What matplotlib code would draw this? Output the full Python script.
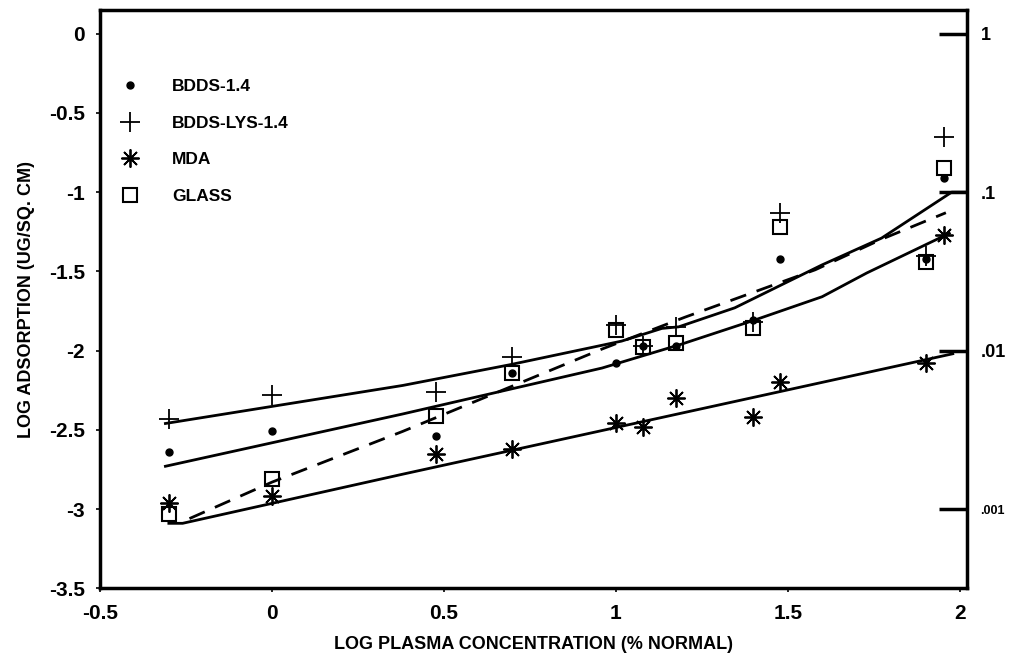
import matplotlib
matplotlib.use("Agg")
import matplotlib.pyplot as plt

plt.rcParams['font.family'] = ['Liberation Sans', 'DejaVu Sans']
plt.rcParams['font.weight'] = 'bold'
plt.rcParams['axes.labelweight'] = 'bold'

# log plasma concentration (% normal)
conc = [-0.301, 0.0, 0.477, 0.699, 1.0, 1.079, 1.176, 1.398, 1.477, 1.903, 1.954]

bdds = [-2.64, -2.51, -2.54, -2.14, -2.08, -1.97, -1.97, -1.81, -1.42, -1.42, -0.91]
bdds_lys = [-2.43, -2.28, -2.26, -2.04, -1.84, -1.97, -1.85, -1.82, -1.13, -1.40, -0.65]
mda = [-2.96, -2.92, -2.65, -2.62, -2.46, -2.48, -2.30, -2.42, -2.20, -2.08, -1.27]
glass = [-3.03, -2.81, -2.41, -2.14, -1.87, -1.98, -1.95, -1.86, -1.22, -1.44, -0.85]

# fitted curves
fit_lys_x = [-0.31, 0.38, 0.69, 0.93, 1.017, 1.134, 1.183, 1.346, 1.599, 1.773, 1.977, 2.02]
fit_lys_y = [-2.46, -2.22, -2.09, -1.98, -1.94, -1.86, -1.85, -1.73, -1.46, -1.29, -1.0, -1.0]

fit_bdds_x = [-0.31, 0.38, 0.96, 1.19, 1.40, 1.60, 1.73, 1.97]
fit_bdds_y = [-2.73, -2.40, -2.11, -1.96, -1.81, -1.66, -1.51, -1.26]

fit_glass_x = [-0.24, 0.0, 0.38, 0.96, 1.20, 1.58, 1.77, 1.96]
fit_glass_y = [-3.06, -2.83, -2.51, -1.99, -1.79, -1.49, -1.30, -1.13]

fit_mda_x = [-0.30, -0.26, 0.38, 1.98]
fit_mda_y = [-3.09, -3.09, -2.78, -2.02]

right_ticks = [1, 0.1, 0.01, 0.001]
right_labels = ['1', '.1', '.01', '.001']

fig = plt.figure(figsize=(10.11, 6.61), dpi=100)
ax = fig.add_axes([0.099, 0.110, 0.857, 0.875])

ax.plot(fit_lys_x, fit_lys_y, color='black', lw=2)
ax.plot(fit_bdds_x, fit_bdds_y, color='black', lw=2)
ax.plot(fit_glass_x, fit_glass_y, color='black', lw=2, dashes=(6, 4))
ax.plot(fit_mda_x, fit_mda_y, color='black', lw=2)

ax.plot(conc, bdds, ls='none', marker='o', ms=5, color='black', label='BDDS-1.4')
ax.plot(conc, bdds_lys, ls='none', marker='+', ms=15, mew=1.3, color='black', label='BDDS-LYS-1.4')
ax.plot(conc, mda, ls='none', marker=(8, 2, 0), ms=13, mew=1.3, color='black', label='MDA')
ax.plot(conc, glass, ls='none', marker='s', ms=10, mew=1.5, mfc='none', mec='black', label='GLASS')

ax.set_xlim(-0.5, 2.02)
ax.set_ylim(-3.5, 0.15)
ax.set_xticks([-0.5, 0, 0.5, 1, 1.5, 2])
ax.set_xticklabels(['-0.5', '0', '0.5', '1', '1.5', '2'])
ax.set_yticks([0, -0.5, -1, -1.5, -2, -2.5, -3, -3.5])
ax.set_yticklabels(['0', '-0.5', '-1', '-1.5', '-2', '-2.5', '-3', '-3.5'])
ax.tick_params(axis='both', labelsize=15, length=3, width=1.2)
ax.tick_params(axis='x', pad=8)
ax.tick_params(axis='y', pad=8)

for s in ax.spines.values():
    s.set_linewidth(2.5)

ax.set_xlabel('LOG PLASMA CONCENTRATION (% NORMAL)', fontsize=13, labelpad=10)
ax.set_ylabel('LOG ADSORPTION (UG/SQ. CM)', fontsize=13, labelpad=10)

ax2 = ax.twinx()
ax2.set_yscale('log')
ax2.set_ylim(10 ** -3.5, 10 ** 0.15)
ax2.set_yticks(right_ticks)
ax2.set_yticklabels(right_labels)
ax2.minorticks_off()
ax2.tick_params(axis='y', direction='in', length=20, width=2.5, labelsize=13, pad=10)
for t in ax2.get_yticklabels():
    if t.get_text() == '.001':
        t.set_fontsize(9)

ax.legend(loc='upper left', bbox_to_anchor=(0.016, 0.893), frameon=False, fontsize=12.5,
          handlelength=1, handletextpad=1.95, labelspacing=1.24, borderaxespad=0)

fig.savefig('out.png', dpi=100)
